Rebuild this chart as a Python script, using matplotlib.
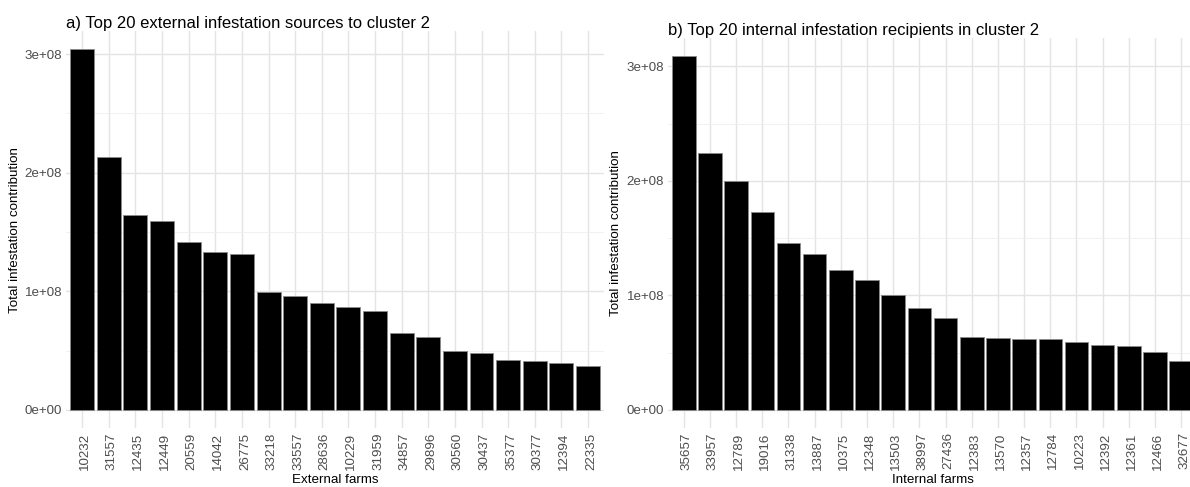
import matplotlib
matplotlib.use("Agg")
import matplotlib.pyplot as plt
import matplotlib.transforms as mtransforms
import numpy as np

plt.rcParams['font.family'] = ['Liberation Sans', 'DejaVu Sans']

# external farms feeding cluster 2
ext_farms = ["10232", "31557", "12435", "12449", "20559", "14042", "26775",
             "33218", "33557", "28636", "10229", "31959", "34857", "29896",
             "30560", "30437", "35377", "30377", "12394", "22335"]
ext_contrib = [3.04e8, 2.13e8, 1.643e8, 1.595e8, 1.417e8, 1.334e8, 1.312e8,
               0.995e8, 0.958e8, 0.901e8, 0.870e8, 0.837e8, 0.651e8, 0.615e8,
               0.497e8, 0.483e8, 0.419e8, 0.416e8, 0.396e8, 0.374e8]

# internal farms receiving infestation within cluster 2
int_farms = ["35657", "33957", "12789", "19016", "31338", "13887", "10375",
             "12348", "13503", "38997", "27436", "12383", "13570", "12357",
             "12784", "10223", "12392", "12361", "12466", "32677"]
int_contrib = [3.09e8, 2.242e8, 2.003e8, 1.727e8, 1.456e8, 1.365e8, 1.225e8,
               1.135e8, 1.004e8, 0.894e8, 0.800e8, 0.640e8, 0.632e8, 0.623e8,
               0.622e8, 0.591e8, 0.565e8, 0.562e8, 0.509e8, 0.425e8]

y_ticks = [0, 1e8, 2e8, 3e8]
y_tick_labels = ["0e+00", "1e+08", "2e+08", "3e+08"]
y_minor = [0.5e8, 1.5e8, 2.5e8]

fig = plt.figure(figsize=(11.9, 4.87), dpi=100)
ax_a = fig.add_axes([0.05563, 0.12115, 0.4519, 0.8146])
ax_b = fig.add_axes([0.5614, 0.12177, 0.4444, 0.7996])

label_shift = mtransforms.ScaledTranslation(0.03, 0, fig.dpi_scale_trans)


def farm_bars(ax, farms, values, title, xlabel):
    x = np.arange(len(farms))
    ax.bar(x, values, width=0.9, color="black", edgecolor="#8a8a8a",
           linewidth=0.6, zorder=3)

    # ggplot-like expansion
    top = max(values)
    ax.set_xlim(-0.6, len(farms) - 0.4)
    ax.set_ylim(-0.05 * top, 1.05 * top)

    ax.set_xticks(x)
    ax.set_xticklabels(farms, rotation=90, ha="center", va="top")
    ax.set_yticks(y_ticks)
    ax.set_yticklabels(y_tick_labels)
    ax.set_yticks(y_minor, minor=True)
    ax.tick_params(axis="both", which="both", length=0, labelsize=9.6,
                   labelcolor="#4d4d4d")
    ax.tick_params(axis="x", pad=3.3)
    ax.tick_params(axis="y", pad=2.8)
    # nudge rotated farm ids a little to the right of their bars
    for tick in ax.xaxis.get_major_ticks():
        tick.label1.set_transform(tick.label1.get_transform() + label_shift)

    # theme_minimal style grid
    ax.grid(True, which="major", color="#e4e4e4", linewidth=1.0, zorder=0)
    ax.grid(True, which="minor", axis="y", color="#efefef", linewidth=0.6,
            zorder=0)
    ax.set_axisbelow(True)
    for s in ax.spines.values():
        s.set_visible(False)

    ax.set_xlabel(xlabel, fontsize=9.6, labelpad=3)
    ax.set_ylabel("Total infestation contribution", fontsize=9.6,
                  labelpad=3)
    ax.annotate(title, xy=(0, 1), xycoords="axes fraction",
                xytext=(0, 2.5), textcoords="offset points",
                ha="left", va="baseline", fontsize=12)


farm_bars(ax_a, ext_farms, ext_contrib,
          "a) Top 20 external infestation sources to cluster 2",
          "External farms")
farm_bars(ax_b, int_farms, int_contrib,
          "b) Top 20 internal infestation recipients in cluster 2",
          "Internal farms")

fig.savefig("out.png", dpi=100, facecolor="white")
